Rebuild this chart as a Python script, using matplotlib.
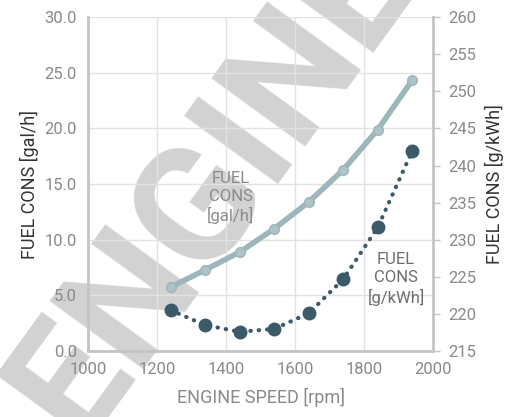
import matplotlib.pyplot as plt

# data
speed = [1240, 1340, 1440, 1540, 1640, 1740, 1840, 1940]
fuel_galh = [5.75, 7.3, 8.9, 11.0, 13.4, 16.3, 19.9, 24.35]
fuel_gkwh = [220.5, 218.5, 217.6, 218.0, 220.1, 224.7, 231.7, 242.0]

x_ticks = [1000, 1200, 1400, 1600, 1800, 2000]
left_ticks = [0, 5, 10, 15, 20, 25, 30]
right_ticks = [215, 220, 225, 230, 235, 240, 245, 250, 255, 260]

light = '#9db6bb'
dark = '#3c5a67'
grey_txt = '#8a8a8a'

plt.rcParams['font.family'] = ['Roboto', 'DejaVu Sans']

fig = plt.figure(figsize=(5.07, 4.17), dpi=100)

# watermark, kept behind the axes
fig.text(0.42, 0.56, 'ENGINE', fontsize=118, fontweight='bold', color='#d2d2d2',
         rotation=54, ha='center', va='center', zorder=-5)

ax = fig.add_axes([0.1736, 0.158, 0.6805, 0.801])
ax.patch.set_alpha(0)
ax2 = ax.twinx()
ax2.patch.set_alpha(0)

ax.set_xlim(1000, 2000)
ax.set_ylim(0, 30)
ax2.set_ylim(215, 260)

ax.set_xticks(x_ticks)
ax.set_yticks(left_ticks)
ax.set_yticklabels(['%.1f' % v for v in left_ticks])
ax2.set_yticks(right_ticks)

ax.grid(True, color='#e2e2e2', linewidth=1)
ax.set_axisbelow(True)

for a in (ax, ax2):
    for s in a.spines.values():
        s.set_visible(False)
ax.spines['left'].set_visible(True)
ax.spines['left'].set_color('#c4c4c4')
ax.spines['left'].set_linewidth(2)
ax.spines['bottom'].set_visible(True)
ax.spines['bottom'].set_color('#c4c4c4')
ax.spines['bottom'].set_linewidth(2)
ax2.spines['right'].set_visible(True)
ax2.spines['right'].set_color('#c4c4c4')
ax2.spines['right'].set_linewidth(2)

ax.tick_params(axis='both', length=0, labelsize=12, labelcolor=grey_txt, pad=8)
ax2.tick_params(axis='y', length=5, width=1, color='#c4c4c4', labelsize=12,
                labelcolor=grey_txt, pad=6)

ax.plot(speed, fuel_galh, color=light, linewidth=4, marker='o', markersize=7,
        markerfacecolor='#adc3c7', markeredgecolor=light, solid_capstyle='round', zorder=3)
ax2.plot(speed, fuel_gkwh, color=dark, linewidth=3, linestyle=(0, (0.1, 1.9)),
         dash_capstyle='round', marker='o', markersize=9, zorder=3)

ax.text(1414, 13.8, 'FUEL\nCONS\n[gal/h]', ha='center', va='center', fontsize=12,
        color=grey_txt, linespacing=1.25)
ax.text(1893, 6.5, 'FUEL\nCONS\n[g/kWh]', ha='center', va='center', fontsize=12,
        color='#6e6e6e', linespacing=1.25)

ax.set_xlabel('ENGINE SPEED [rpm]', fontsize=13, color=grey_txt, labelpad=8)
ax.set_ylabel('FUEL CONS [gal/h]', fontsize=13, color='#333333', labelpad=4)
ax2.set_ylabel('FUEL CONS [g/kWh]', fontsize=13, color='#333333', labelpad=6)

fig.savefig('out.png', dpi=100)
